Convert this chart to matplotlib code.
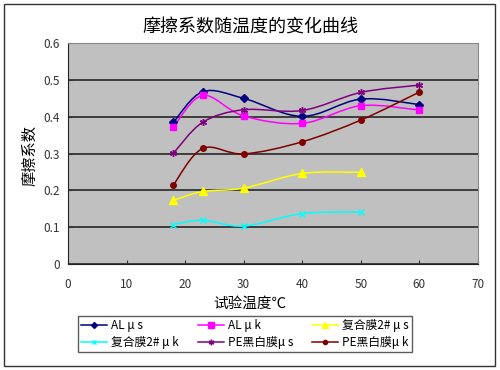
import numpy as np
import matplotlib
matplotlib.use("Agg")
from matplotlib import pyplot as plt
from matplotlib.path import Path
from matplotlib.patches import PathPatch, Rectangle
from matplotlib.lines import Line2D

plt.rcParams['font.family'] = ['Noto Sans CJK SC', 'DejaVu Sans']

temps = [18, 23, 30, 40, 50, 60]
al_us = [0.385, 0.468, 0.450, 0.401, 0.448, 0.433]
al_uk = [0.372, 0.458, 0.402, 0.382, 0.430, 0.418]
fh_us = [0.173, 0.197, 0.206, 0.246, 0.249]
fh_uk = [0.107, 0.119, 0.103, 0.137, 0.141]
pe_us = [0.301, 0.385, 0.419, 0.417, 0.466, 0.486]
pe_uk = [0.215, 0.314, 0.299, 0.332, 0.391, 0.467]

labels = ['AL \u03bc s', 'AL \u03bc k', '复合膜2# \u03bc s', '复合膜2# \u03bc k',
          'PE黑白膜\u03bc s', 'PE黑白膜\u03bc k']
colors = ['#000080', '#FF00FF', '#FFFF00', '#00FFFF', '#800080', '#800000']
markers = ['D', 's', '^', 'x', (6, 2, 0), 'o']
msizes = [4, 5, 6, 4, 5, 4]


def smooth_path(xs, ys):
    # excel-like smoothed line: cubic bezier, catmull-rom control points
    p = np.column_stack([xs, ys]).astype(float)
    p = np.vstack([p[0], p, p[-1]])
    verts = [p[1]]
    codes = [Path.MOVETO]
    for i in range(1, len(p) - 2):
        c1 = p[i] + (p[i + 1] - p[i - 1]) / 6
        c2 = p[i + 1] - (p[i + 2] - p[i]) / 6
        verts += [c1, c2, p[i + 1]]
        codes += [Path.CURVE4] * 3
    return Path(verts, codes)


fig = plt.figure(figsize=(5, 3.7), dpi=100)
fig.patches.append(Rectangle((0.008, 0.011), 0.982, 0.978, transform=fig.transFigure,
                             fill=False, edgecolor='#333333', lw=1))
ax = fig.add_axes([0.136, 0.2865, 0.82, 0.597])
ax.set_facecolor('#C0C0C0')

series = [al_us, al_uk, fh_us, fh_uk, pe_us, pe_uk]
handles = []
for vals, lab, c, m, ms in zip(series, labels, colors, markers, msizes):
    xs = temps[:len(vals)]
    ax.add_patch(PathPatch(smooth_path(xs, vals), fill=False, edgecolor=c, lw=1.1, zorder=3))
    ax.plot(xs, vals, linestyle='none', marker=m, color=c, markersize=ms,
            markeredgecolor=c, zorder=4)
    handles.append(Line2D([], [], color=c, marker=m, markersize=ms - 1, lw=1.1, label=lab))

ax.set_xlim(0, 70)
ax.set_ylim(0, 0.6)
ax.set_xticks(range(0, 71, 10))
ax.set_yticks([0, 0.1, 0.2, 0.3, 0.4, 0.5, 0.6])
ax.set_yticklabels(['0', '0.1', '0.2', '0.3', '0.4', '0.5', '0.6'])
ax.yaxis.grid(True, color='#333333', lw=1.3)
ax.set_axisbelow(True)
ax.tick_params(labelsize=8.5, colors='#333333', length=3, direction='in', pad=6)
ax.tick_params(axis='x', pad=10)
for s in ['top', 'right']:
    ax.spines[s].set_color('#888888')
for s in ['left', 'bottom']:
    ax.spines[s].set_color('#222222')

fig.text(0.5, 0.925, '摩擦系数随温度的变化曲线', ha='center', va='center', fontsize=13)
fig.text(0.06, 0.58, '摩擦系数', rotation=90, ha='center', va='center', fontsize=11)
fig.text(0.5, 0.18, '试验温度℃', ha='center', va='center', fontsize=10.5)

# legend fills row by row in the reference
order = [0, 3, 1, 4, 2, 5]
leg = fig.legend(handles=[handles[i] for i in order], ncol=3, loc='lower left', mode='expand',
                 bbox_to_anchor=(0.144, 0.032, 0.692, 0.108), fontsize=8.5,
                 frameon=True, fancybox=False, edgecolor='#333333', handlelength=2.2,
                 borderpad=0.3, labelspacing=0.3, columnspacing=0.5, handletextpad=0.3)
leg.get_frame().set_linewidth(1)

fig.savefig('out.png', dpi=100)
